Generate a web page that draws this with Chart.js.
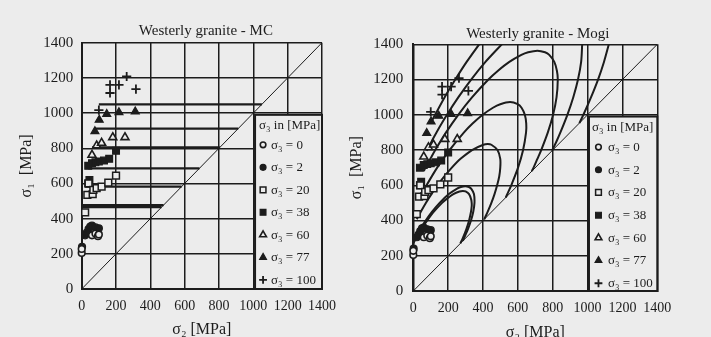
<!DOCTYPE html>
<html>
<head>
<meta charset="utf-8">
<script src="https://cdn.jsdelivr.net/npm/chart.js@4.4.1/dist/chart.umd.min.js"></script>
<style>
  html, body { margin: 0; padding: 0; background: #ececec; }
  #wrap { position: relative; width: 711px; height: 337px; overflow: hidden; background: #ececec; }
  #wrap canvas { position: absolute; left: 0; top: 0; }
</style>
</head>
<body>
<div id="wrap">
  <canvas id="mc" width="711" height="350"></canvas>
  <canvas id="mogi" width="711" height="350"></canvas>
</div>
<script>
// ---- Westerly granite polyaxial tests (MPa) ----
const sigma3Levels = [0, 2, 20, 38, 60, 77, 100];
const tickValues = [0, 200, 400, 600, 800, 1000, 1200, 1400];
const diagonal = [0, 1400];

// measured sigma2 / sigma1 at failure, one pair of lists per sigma3
const s2_0 = [0, 0, 60, 80, 95, 100];
const s1_0 = [205, 228, 305, 315, 300, 310];
const s2_2 = [2, 20, 30, 40, 50, 60, 80, 100];
const s1_2 = [240, 305, 320, 340, 355, 360, 350, 345];
const s2_20 = [20, 33, 64, 40, 68, 87, 116, 155, 200];
const s1_20 = [436, 535, 539, 600, 563, 573, 582, 605, 644];
const s2_38 = [38, 45, 38, 60, 80, 100, 130, 160, 200];
const s1_38 = [600, 620, 700, 715, 720, 725, 730, 740, 786];
const s2_60 = [60, 87, 116, 181, 252];
const s1_60 = [762, 815, 830, 862, 862];
const s2_77 = [77, 102, 146, 217, 312];
const s1_77 = [896, 961, 994, 1004, 1008];
const s2_100 = [100, 165, 165, 217, 262, 316];
const s1_100 = [1017, 1114, 1160, 1160, 1208, 1136];

// Mohr-Coulomb prediction: sigma1 for each sigma3 (independent of sigma2)
const mcSigma1 = [465, 477, 582, 686, 805, 912, 1050];

// Mogi prediction curves in the sigma2-sigma1 plane (null = curve leaves the frame)
const mogiS2_0 = [0, 16, 46, 80, 118, 165, 188, 230, 265, 284, 300, 320, 332, 335, 335, 331, 320, 304, 284, 270];
const mogiS1_0 = [270, 300, 350, 400, 450, 500, 520, 550, 565, 568, 565, 550, 520, 500, 480, 450, 400, 350, 300, 270];
const mogiS2_2 = [2, 11, 39, 71, 108, 151, 204, 249, 273, 298, 319, 333, 348, 351, 344, 331, 313, 291, 284];
const mogiS1_2 = [284, 300, 350, 400, 450, 500, 550, 580, 590, 594, 590, 580, 550, 500, 450, 400, 350, 300, 284];
const mogiS2_20 = [20, 27, 43, 72, 104, 139, 178, 221, 271, 337, 402, 427, 448, 483, 499, 499, 493, 481, 466, 448, 427, 413, 407];
const mogiS1_20 = [407, 420, 450, 500, 550, 600, 650, 700, 750, 800, 830, 834, 830, 800, 750, 700, 650, 600, 550, 500, 450, 420, 407];
const mogiS2_38 = [38, 54, 76, 137, 208, 291, 340, 398, 457, 499, 555, 599, 621, 640, 648, 647, 630, 601, 562, 544, 530];
const mogiS1_38 = [530, 560, 600, 700, 800, 900, 950, 1000, 1040, 1060, 1072, 1060, 1040, 1000, 950, 900, 800, 700, 600, 560, 530];
const mogiS2_60 = [60, 70, 98, 126, 188, 258, 338, 431, 486, 551, 620, 659, 712, 756, 780, 809, 824, 829, 822, 802, 772, 734, 712, 690, 680];
const mogiS1_60 = [680, 700, 750, 800, 900, 1000, 1100, 1200, 1250, 1300, 1340, 1355, 1364, 1355, 1340, 1300, 1250, 1200, 1100, 1000, 900, 800, 750, 700, 680];
const mogiS2_77 = [77, 106, 133, 193, 259, 332, 414, 508, null, 969, 963, 945, 918, 884, 844, 822, 796];
const mogiS1_77 = [796, 850, 900, 1000, 1100, 1200, 1300, 1400, null, 1400, 1300, 1200, 1100, 1000, 900, 850, 796];
const mogiS2_100 = [100, 125, 180, 241, 306, 378, null, 1122, 1094, 1060, 1020, 976, 953];
const mogiS1_100 = [953, 1000, 1100, 1200, 1300, 1400, null, 1400, 1300, 1200, 1100, 1000, 953];

// ---- styling ----
const BG = '#ececec';
const INK = '#1c1c1c';
const SERIF = "'Liberation Serif', 'DejaVu Serif', 'Times New Roman', serif";

const zip = (xs, ys) => xs.map((x, i) => ({ x: x, y: ys[i] }));

const tests = [
  zip(s2_0, s1_0), zip(s2_2, s1_2), zip(s2_20, s1_20), zip(s2_38, s1_38),
  zip(s2_60, s1_60), zip(s2_77, s1_77), zip(s2_100, s1_100)
];
const mogiCurves = [
  zip(mogiS2_0, mogiS1_0), zip(mogiS2_2, mogiS1_2), zip(mogiS2_20, mogiS1_20),
  zip(mogiS2_38, mogiS1_38), zip(mogiS2_60, mogiS1_60), zip(mogiS2_77, mogiS1_77),
  zip(mogiS2_100, mogiS1_100)
];

// one marker style per sigma3 group
const markers = [
  { pointStyle: 'circle',   radius: 3.3, fill: BG,  width: 1.6 },
  { pointStyle: 'circle',   radius: 3.5, fill: INK, width: 1.2 },
  { pointStyle: 'rect',     radius: 4.8, fill: BG,  width: 1.5 },
  { pointStyle: 'rect',     radius: 4.8, fill: INK, width: 1.2 },
  { pointStyle: 'triangle', radius: 4.6, fill: BG,  width: 1.6 },
  { pointStyle: 'triangle', radius: 4.6, fill: INK, width: 1.2 },
  { pointStyle: 'cross',    radius: 4.6, fill: INK, width: 1.8 }
];

function testDatasets() {
  return tests.map((pts, i) => ({
    type: 'scatter',
    label: 'σ₃ = ' + sigma3Levels[i],
    data: pts,
    clip: false,
    pointStyle: markers[i].pointStyle,
    pointRadius: markers[i].radius,
    pointBackgroundColor: markers[i].fill,
    pointBorderColor: INK,
    pointBorderWidth: markers[i].width,
    order: 0
  }));
}

function diagonalDataset() {
  return {
    type: 'line',
    data: zip(diagonal, diagonal),
    borderColor: INK,
    borderWidth: 1,
    pointRadius: 0,
    tension: 0,
    order: 5
  };
}

function mcDatasets() {
  return mcSigma1.map((s1, i) => ({
    type: 'line',
    data: [{ x: sigma3Levels[i], y: s1 }, { x: s1, y: s1 }],
    borderColor: INK,
    borderWidth: 2.2,
    pointRadius: 0,
    tension: 0,
    order: 4
  }));
}

function mogiDatasets() {
  return mogiCurves.map((pts) => ({
    type: 'line',
    data: pts,
    borderColor: INK,
    borderWidth: 2,
    pointRadius: 0,
    tension: 0.3,
    spanGaps: false,
    order: 4
  }));
}

// chart heading, drawn centred over the plot frame
const headingPlugin = {
  id: 'heading',
  afterDraw(chart, args, opts) {
    const { ctx, chartArea } = chart;
    ctx.save();
    ctx.font = '15px ' + SERIF;
    ctx.fillStyle = INK;
    ctx.textAlign = 'center';
    ctx.textBaseline = 'alphabetic';
    ctx.fillText(opts.text, (chartArea.left + chartArea.right) / 2 + opts.dx, opts.y);
    ctx.restore();
  }
};

// boxed key in the lower right corner of the frame
const sigmaKeyPlugin = {
  id: 'sigmaKey',
  afterDatasetsDraw(chart, args, opts) {
    const { ctx, chartArea } = chart;
    const xs = chart.scales.x, ys = chart.scales.y;
    const left = xs.getPixelForValue(opts.fromX);
    const top = ys.getPixelForValue(opts.fromY);
    const right = chartArea.right, bottom = chartArea.bottom;
    ctx.save();
    ctx.fillStyle = BG;
    ctx.fillRect(left, top, right - left, bottom - top);
    ctx.lineWidth = 2;
    ctx.strokeStyle = INK;
    ctx.strokeRect(left, top, right - left, bottom - top);
    ctx.fillStyle = INK;
    ctx.font = '13px ' + SERIF;
    ctx.textBaseline = 'middle';
    ctx.textAlign = 'left';
    ctx.fillText('σ₃ in [MPa]', left + opts.headPad, top + opts.headY);
    sigma3Levels.forEach((v, i) => {
      const cy = top + opts.firstRow + i * opts.rowGap;
      const m = markers[i];
      ctx.save();
      ctx.fillStyle = m.fill;
      ctx.strokeStyle = INK;
      ctx.lineWidth = m.width;
      Chart.helpers.drawPoint(ctx, { pointStyle: m.pointStyle, radius: m.radius * 0.85, borderWidth: m.width, rotation: 0 }, left + opts.symX, cy);
      ctx.restore();
      ctx.fillStyle = INK;
      ctx.fillText('σ₃ = ' + v, left + opts.textX, cy + 0.5);
    });
    ctx.restore();
  }
};

function axisOptions(o) {
  return {
    x: {
      type: 'linear', min: 0, max: 1400,
      afterFit: (s) => { s.height = o.xAxisHeight; },
      afterBuildTicks: (s) => { s.ticks = tickValues.map(v => ({ value: v })); },
      ticks: { color: INK, padding: o.xTickPad, font: { family: SERIF, size: 14 }, maxRotation: 0, autoSkip: false, callback: (v) => String(v) },
      grid: { color: INK, lineWidth: 1.5, drawTicks: false },
      border: { color: INK, width: 2 },
      title: { display: true, text: 'σ₂ [MPa]', color: INK, font: { family: SERIF, size: 16 }, padding: { top: 0, bottom: o.xTitlePad } }
    },
    y: {
      type: 'linear', min: 0, max: 1400,
      afterFit: (s) => { s.width = o.yAxisWidth; },
      afterBuildTicks: (s) => { s.ticks = tickValues.map(v => ({ value: v })); },
      ticks: { color: INK, padding: o.yTickPad, font: { family: SERIF, size: 15 }, autoSkip: false, callback: (v) => String(v) },
      grid: { color: INK, lineWidth: 1.5, drawTicks: false },
      border: { color: INK, width: 2 },
      title: { display: true, text: 'σ₁  [MPa]', color: INK, font: { family: SERIF, size: 16 }, padding: { top: o.yTitlePad, bottom: 0 } }
    }
  };
}

function build(id, datasets, o) {
  return new Chart(document.getElementById(id), {
    data: { datasets: datasets },
    options: {
      responsive: false,
      animation: false,
      devicePixelRatio: 1,
      layout: { padding: o.padding },
      scales: axisOptions(o),
      plugins: {
        legend: { display: false },
        tooltip: { enabled: false },
        heading: { text: o.title, dx: o.titleDx, y: o.titleY },
        sigmaKey: o.key
      }
    },
    plugins: [headingPlugin, sigmaKeyPlugin]
  });
}

Chart.defaults.font.family = SERIF;

build('mc', [diagonalDataset()].concat(mcDatasets(), testDatasets()), {
  padding: { left: 11.7, right: 389, top: 42.7, bottom: 11 },
  yAxisWidth: 70, xAxisHeight: 50,
  xTickPad: 9, yTickPad: 8.5, xTitlePad: 0, yTitlePad: 5.5,
  title: 'Westerly granite - MC', titleDx: 4, titleY: 35,
  key: { fromX: 1010, fromY: 990, headPad: 4, headY: 11, firstRow: 30, rowGap: 22.5, symX: 8, textX: 16 }
});

build('mogi', [diagonalDataset()].concat(mogiDatasets(), testDatasets()), {
  padding: { left: 343.3, right: 53.7, top: 44.3, bottom: 7 },
  yAxisWidth: 70, xAxisHeight: 52,
  xTickPad: 9, yTickPad: 10, xTitlePad: 0.4, yTitlePad: 4,
  title: 'Westerly granite - Mogi', titleDx: 2.5, titleY: 37.5,
  key: { fromX: 1008, fromY: 990, headPad: 3, headY: 11, firstRow: 30.5, rowGap: 22.7, symX: 9.5, textX: 19 }
});
</script>
</body>
</html>
